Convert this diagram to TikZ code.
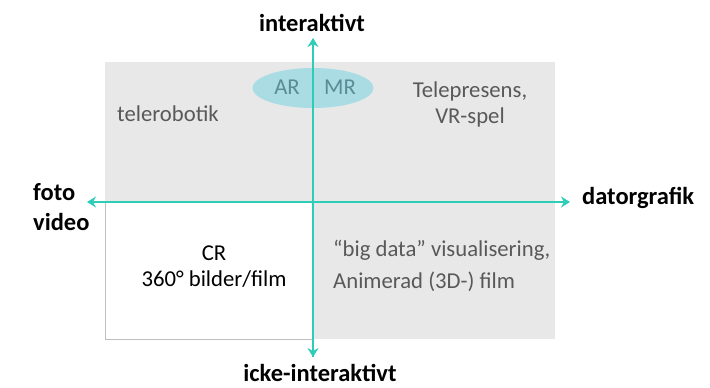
\documentclass[tikz,border=0pt]{standalone}
\usepackage{fontspec}
\setmainfont{Carlito}
\usetikzlibrary{arrows.meta,shapes.geometric}

\definecolor{axisteal}{RGB}{45,205,184}
\definecolor{quadgray}{RGB}{232,232,232}
\definecolor{ovalblue}{RGB}{170,220,228}
\definecolor{textgray}{RGB}{89,89,89}
\definecolor{ovaltext}{RGB}{90,140,150}

\begin{document}
\begin{tikzpicture}[
        x=1pt, y=-1pt,
        axis_style/.style={axisteal, line width=2pt, -{Stealth[length=9pt, width=11pt, inset=3pt]}},
        pole_style/.style={font=\fontsize{24.5}{30}\selectfont\bfseries, black, align=left, inner sep=0pt},
        item_style/.style={font=\fontsize{22.7}{29}\selectfont, textgray, inner sep=0pt},
        oval_style/.style={ellipse, fill=ovalblue, minimum width=121pt, minimum height=40pt, inner sep=0pt}
    ]
        \useasboundingbox (0,0) rectangle (710,388);

        % Coordinates
        \coordinate (center) at (313,202);
        \coordinate (top) at (313,38);
        \coordinate (bottom) at (313,357);
        \coordinate (left) at (87,202);
        \coordinate (right) at (570,202);

        % Quadrants
        \fill[quadgray] (105,62) rectangle (555,339);
        \draw[fill=white, draw=black!25, line width=0.8pt] (105,202) rectangle (313,339);

        % Oval behind the axis
        \node[oval_style] (oval) at (313,88) {};

        % Axes
        \draw[axis_style] (bottom) -- (top);
        \draw[axis_style] (center) -- (right);
        \draw[axis_style] (center) -- (left);
        \draw[axis_style] (center) -- (bottom);

        % Pole labels
        \node[pole_style] (up) at (312,23) {interaktivt};
        \node[pole_style] (down) at (320,373) {icke-interaktivt};
        \node[pole_style, anchor=west] (east) at (582,198) {datorgrafik};
        \node[pole_style, anchor=west] (west) at (33,207) {foto\\video};

        % Quadrant texts
        \node[item_style, ovaltext] (ar) at (287,87) {AR};
        \node[item_style, ovaltext] (mr) at (340,87) {MR};
        \node[item_style] (robot) at (168,114) {telerobotik};
        \node[item_style, align=center, font=\fontsize{22.7}{26}\selectfont] (tele) at (470,104) {Telepresens,\\VR-spel};
        \node[item_style, align=center, black, font=\fontsize{22.7}{26}\selectfont] (cr) at (214,267) {CR\\360° bilder/film};
        \node[item_style, align=left, anchor=west, font=\fontsize{22.7}{32}\selectfont] (big) at (333,266) {“big data” visualisering,\\Animerad (3D-) film};
    \end{tikzpicture}
\end{document}
